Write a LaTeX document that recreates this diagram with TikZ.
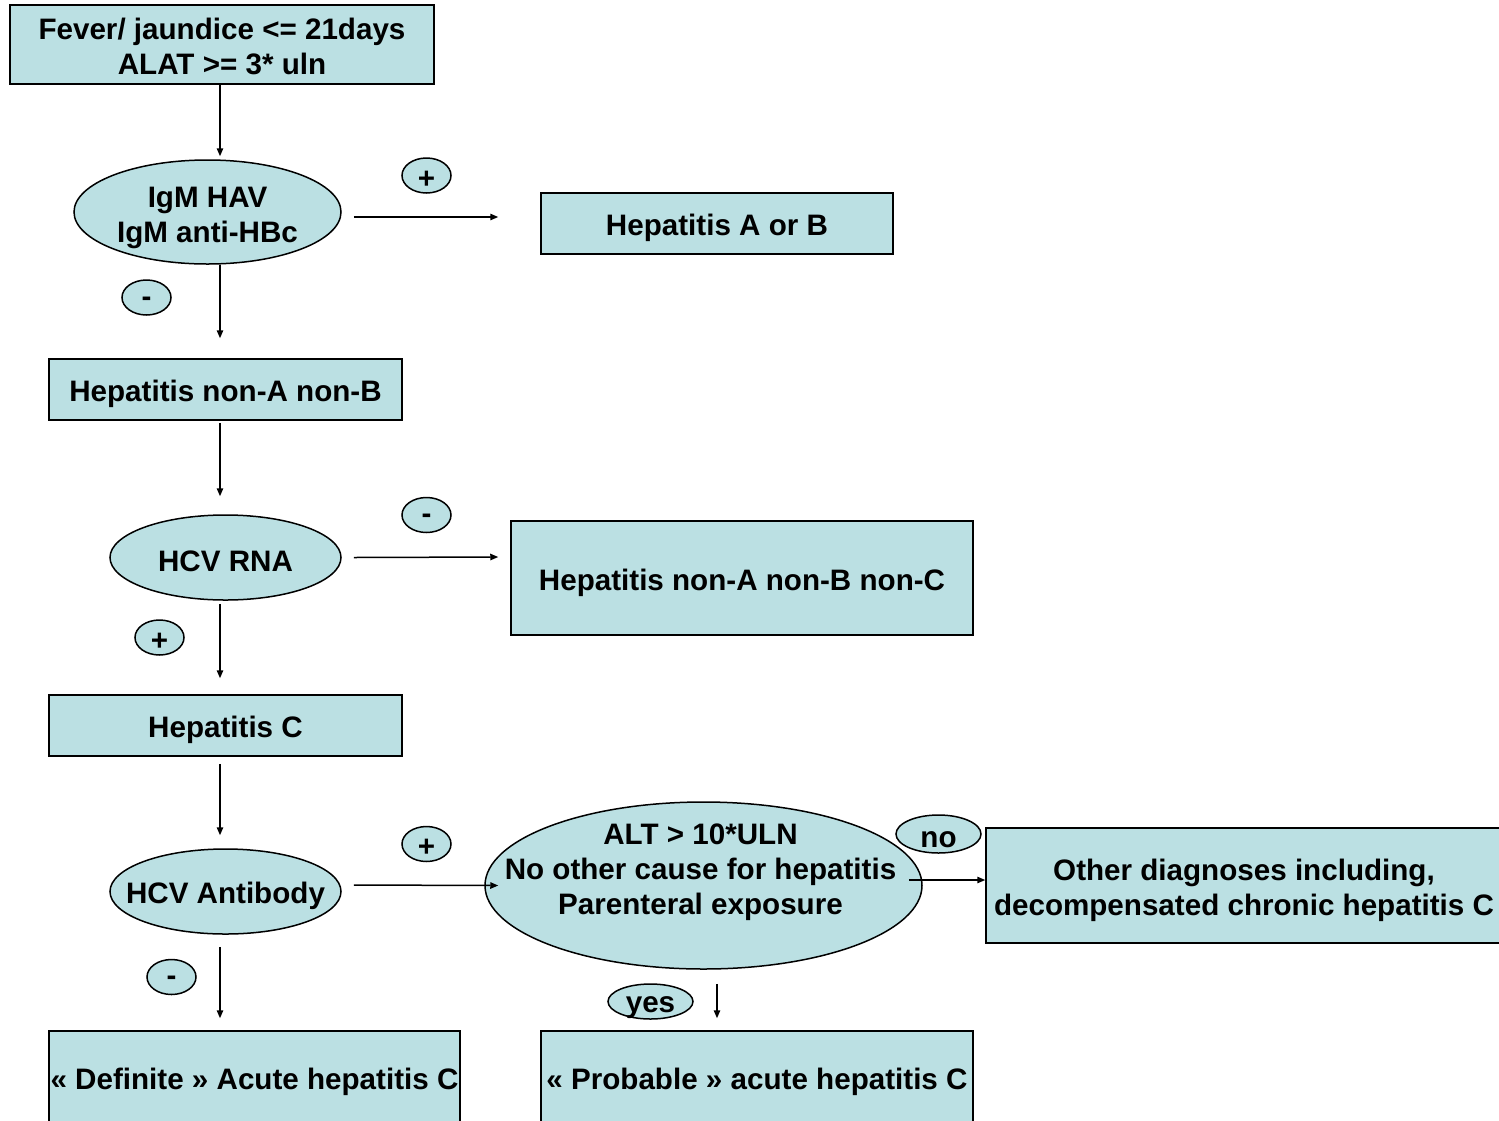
\documentclass[tikz,border=0pt]{standalone}
\usepackage{fontspec}
\setmainfont{Liberation Sans}
\usetikzlibrary{shapes.geometric,arrows.meta}
\definecolor{boxfill}{RGB}{187,224,227}
\begin{document}
\begin{tikzpicture}[x=0.5pt,y=-0.5pt,
  every node/.style={font=\fontsize{14.8pt}{17.5pt}\selectfont\bfseries, text=black},
  box/.style={draw=black, line width=0.75pt, fill=boxfill, rectangle, inner sep=0pt},
  oval/.style={draw=black, line width=0.75pt, fill=boxfill, ellipse, inner sep=0pt},
  txt/.style={label={[align=center, yshift=-2pt]center:#1}},
  arr/.style={draw=black, line width=0.75pt, -{Triangle[length=4pt,width=3.2pt]}}
]
\useasboundingbox (0,0) rectangle (1499,1120);
% boxes
\node[box, minimum width=212pt, minimum height=39.5pt, label={[align=center, yshift=-1pt]center:Fever/ jaundice <= 21days\\ALAT >= 3* uln}] (top) at (222,44.5) {};
\node[box, minimum width=176pt, minimum height=30.5pt, txt={Hepatitis A or B}] (hab) at (717,223.5) {};
\node[box, minimum width=176.5pt, minimum height=30.5pt, txt={Hepatitis non-A non-B}] (nanb) at (225.5,389.5) {};
\node[box, minimum width=231pt, minimum height=57pt, label={[yshift=-2.5pt]center:Hepatitis non-A non-B non-C}] (nanbnc) at (742,578) {};
\node[box, minimum width=176.5pt, minimum height=30.5pt, txt={Hepatitis C}] (hc) at (225.5,725.5) {};
\node[box, minimum width=258pt, minimum height=57.5pt, label={[align=center, yshift=-2.5pt]center:Other diagnoses including,\\decompensated chronic hepatitis C}] (other) at (1244,885.5) {};
\node[box, minimum width=205.5pt, minimum height=48pt, label={[yshift=-1.5pt]center:« Definite » Acute hepatitis C}] (def) at (254.5,1079) {};
\node[box, minimum width=216pt, minimum height=48pt, label={[yshift=-1.5pt]center:« Probable » acute hepatitis C}] (prob) at (757,1079) {};
% ellipses
\node[oval, minimum width=133.5pt, minimum height=52pt, label={[align=center, yshift=-3pt]center:IgM HAV\\IgM anti-HBc}] (e1) at (207.5,212) {};
\node[oval, minimum width=115.5pt, minimum height=42.5pt, txt={HCV RNA}] (rna) at (225.5,557.5) {};
\node[oval, minimum width=115.5pt, minimum height=42.5pt, txt={HCV Antibody}] (ab) at (225.5,891.5) {};
\node[oval, minimum width=218.5pt, minimum height=83.5pt, label={[align=center, xshift=-1.5pt, yshift=6.5pt]center:ALT > 10*ULN\\No other cause for hepatitis\\Parenteral exposure}] (alt) at (703.5,885.5) {};
% small labels
\node[oval, minimum width=24.5pt, minimum height=17.5pt, txt={+}] (lp1) at (426.5,175.5) {};
\node[oval, minimum width=24.5pt, minimum height=17.5pt, txt={-}] (lm1) at (146.5,297.5) {};
\node[oval, minimum width=24.5pt, minimum height=17.5pt, txt={-}] (lm2) at (426.5,515) {};
\node[oval, minimum width=24.5pt, minimum height=17.5pt, txt={+}] (lp2) at (159.5,637.5) {};
\node[oval, minimum width=24.5pt, minimum height=17.5pt, txt={+}] (lp3) at (426.5,844) {};
\node[oval, minimum width=24.5pt, minimum height=17.5pt, txt={-}] (lm3) at (171.5,977) {};
\node[oval, minimum width=42.5pt, minimum height=19pt, label={[yshift=-3pt]center:no}] (lno) at (938.5,834) {};
\node[oval, minimum width=42.5pt, minimum height=17.5pt, label={[yshift=-3pt]center:yes}] (lyes) at (650.5,1001.5) {};
% connectors
\draw[arr] ([shift={(-2,0)}]top.south) -- ([shift={(12.5,-3)}]e1.north);
\draw[arr] ([shift={(12,5)}]e1.east) -- ([shift={(-42,-6.5)}]hab.west);
\draw[arr] ([shift={(12.5,0)}]e1.south) -- ([shift={(-5.5,-20)}]nanb.north);
\draw[arr] ([shift={(-5.5,2)}]nanb.south) -- ([shift={(-5.5,-18)}]rna.north);
\draw[arr] ([shift={(12,0)}]rna.east) -- ([shift={(-12,-21)}]nanbnc.west);
\draw[arr] ([shift={(-5.5,3)}]rna.south) -- ([shift={(-5.5,-16)}]hc.north);
\draw[arr] ([shift={(-5.5,7)}]hc.south) -- ([shift={(-5.5,-13)}]ab.north);
\draw[arr] ([shift={(12,-6.5)}]ab.east) -- ([shift={(14,0)}]alt.west);
\draw[arr] ([shift={(-14,-5.5)}]alt.east) -- ([shift={(0,-5.5)}]other.west);
\draw[arr] ([shift={(-5.5,12)}]ab.south) -- ([shift={(-34.5,-12)}]def.north);
\draw[arr] ([shift={(13.5,14)}]alt.south) -- ([shift={(-40,-12)}]prob.north);
\end{tikzpicture}
\end{document}
